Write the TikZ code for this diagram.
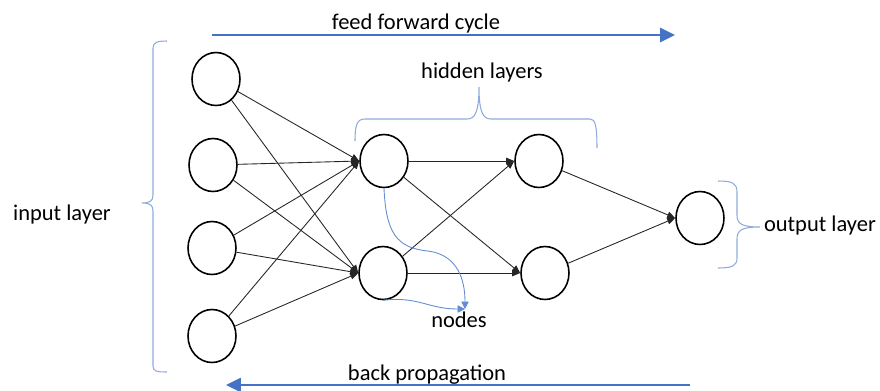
\documentclass[tikz,border=0pt]{standalone}
\usepackage{fontspec}
\setmainfont{Carlito}
\usetikzlibrary{arrows.meta,shapes.geometric}
\definecolor{bracebl}{RGB}{143,170,220}
\definecolor{arrowbl}{RGB}{68,114,196}
\definecolor{pointbl}{RGB}{100,140,210}

\begin{document}
\begin{tikzpicture}[x=0.02cm, y=-0.02cm,
    neuron/.style={draw, ellipse, line width=0.9pt, minimum width=0.96cm, minimum height=1.06cm, inner sep=0pt},
    link/.style={-{Triangle[length=0.16cm, width=0.13cm]}, line width=0.5pt, black!85},
    flow/.style={-{Triangle[length=0.3cm, width=0.28cm]}, line width=1.5pt, arrowbl},
    pointer/.style={-{Triangle[length=0.15cm, width=0.15cm]}, line width=0.5pt, pointbl},
    brc/.style={line width=0.6pt, bracebl},
    lbl/.style={font=\fontsize{12.8}{15}\selectfont, inner sep=0pt, anchor=base}]
    \useasboundingbox (0,0) rectangle (880,390);

    \node[neuron] (inp1) at (216,79) {};
    \node[neuron] (inp2) at (213,165) {};
    \node[neuron] (inp3) at (212,248) {};
    \node[neuron] (inp4) at (212,336) {};

    \node[neuron] (hid1a) at (384,161) {};
    \node[neuron] (hid1b) at (383,273) {};
    \node[neuron] (hid2a) at (539,161) {};
    \node[neuron] (hid2b) at (545,273) {};

    \node[neuron] (outn) at (700,218) {};

    %%%%%%%%%%%%%%%%%%%%%%%%%%%%%%%%%%%%%%%%%%%%%%%%%%%%%%

    \draw[link] (inp1) -- (hid1a.west);
    \draw[link] (inp1) -- (hid1b.west);
    \draw[link] (inp2) -- (hid1a.west);
    \draw[link] (inp2) -- (hid1b.west);
    \draw[link] (inp3) -- (hid1a.west);
    \draw[link] (inp3) -- (hid1b.west);
    \draw[link] (inp4) -- (hid1a.west);
    \draw[link] (inp4) -- (hid1b.west);

    \draw[link] (hid1a) -- (hid2a.west);
    \draw[link] (hid1a) -- (hid2b.west);
    \draw[link] (hid1b) -- (hid2a.west);
    \draw[link] (hid1b) -- (hid2b.west);

    \draw[link] (hid2a) -- (outn.west);
    \draw[link] (hid2b) -- (outn.west);

    %%%%%%%%%%%%%%%%%%%%%%%%%%%%%%%%%%%%%%%%%%%%%%%%%%%%%%

    % input layer brace
    \draw[brc] (167,41) .. controls (158,41) and (153,42) .. (153,48) -- (153,195)
        .. controls (153,201) and (150,203) .. (142,203)
        .. controls (150,203) and (153,205) .. (153,211) -- (153,366)
        .. controls (153,371) and (156,372) .. (167,372);
    \node[lbl] (inlbl) at (62,220) {input layer};

    % hidden layers brace
    \draw[brc] (355,141) .. controls (355,125) and (357,119) .. (365,119) -- (467,119)
        .. controls (475,119) and (479,112) .. (479,87)
        .. controls (479,112) and (483,119) .. (491,119) -- (590,119)
        .. controls (595,119) and (597,125) .. (597,148);
    \node[lbl] (hidlbl) at (482,78) {hidden layers};

    % output layer brace
    \draw[brc] (718,181) .. controls (732,181) and (737,183) .. (737,192) -- (737,215)
        .. controls (737,224) and (742,227) .. (760,227)
        .. controls (742,227) and (737,230) .. (737,239) -- (737,258)
        .. controls (737,266) and (732,268) .. (718,268);
    \node[lbl] (outlbl) at (820,231) {output layer};

    %%%%%%%%%%%%%%%%%%%%%%%%%%%%%%%%%%%%%%%%%%%%%%%%%%%%%%

    \node[lbl] (nodes) at (459,327) {nodes};
    \coordinate (ntip) at (465,309);
    \draw[pointer] (hid1a.south) .. controls (386,232) and (396,248) .. (428,251)
        .. controls (458,255) and (465,280) .. (ntip);
    \draw[pointer] (hid1b.south) .. controls (418,296) and (428,309) .. (ntip);

    %%%%%%%%%%%%%%%%%%%%%%%%%%%%%%%%%%%%%%%%%%%%%%%%%%%%%%

    \coordinate (ffstart) at (212,35);
    \coordinate (ffend) at (675,35);
    \draw[flow] (ffstart) -- (ffend);
    \node[lbl] (ffcycle) at (416,29) {feed forward cycle};

    \coordinate (bpstart) at (690,385);
    \coordinate (bpend) at (226,385);
    \draw[flow] (bpstart) -- (bpend);
    \node[lbl] (backprop) at (427,380) {back propagation};
\end{tikzpicture}
\end{document}
